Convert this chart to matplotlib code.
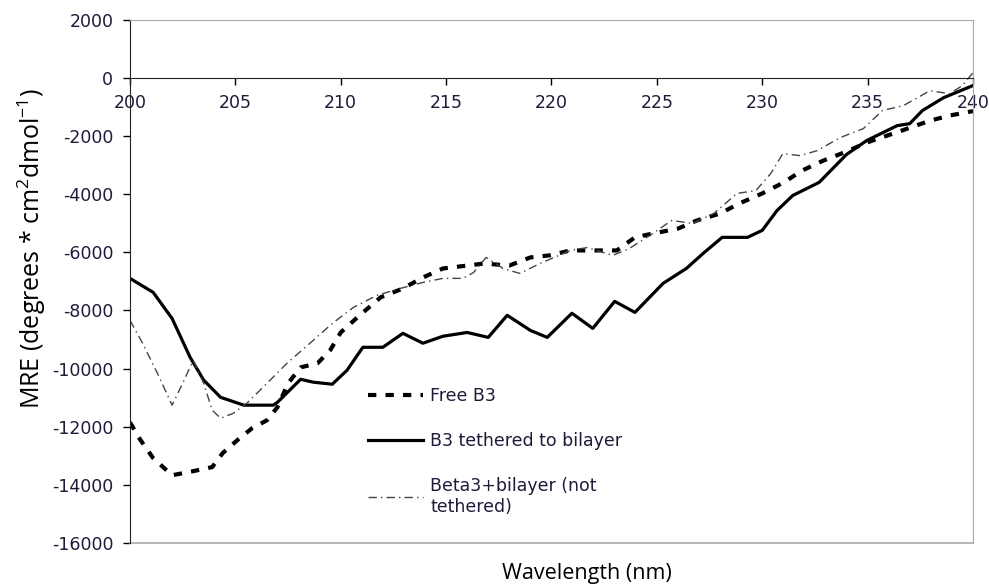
import matplotlib
matplotlib.use('Agg')
import matplotlib.pyplot as plt

plt.rcParams['axes.unicode_minus'] = False
plt.rcParams['mathtext.fontset'] = 'custom'
plt.rcParams['mathtext.rm'] = 'Open Sans'
plt.rcParams['mathtext.it'] = 'Open Sans'

# B3 tethered to bilayer (solid)
wl_teth = [200.0, 201.1, 202.0, 202.85, 203.5, 204.3, 205.4, 206.8, 207.0, 208.1, 208.7, 209.6,
           210.3, 211.05, 212.0, 212.95, 213.9, 214.85, 216.0, 217.0, 217.9, 219.0, 219.8, 220.97,
           221.96, 223.0, 223.96, 225.3, 226.4, 227.2, 228.1, 229.3, 230.0, 230.7, 231.45, 232.7,
           234.0, 234.96, 236.4, 237.0, 237.6, 238.6, 240.0]
mre_teth = [-6900, -7380, -8280, -9610, -10400, -10990, -11260, -11260, -11160, -10370, -10470, -10540,
            -10060, -9270, -9270, -8790, -9130, -8890, -8760, -8930, -8170, -8690, -8930, -8100,
            -8620, -7690, -8070, -7070, -6560, -6040, -5490, -5490, -5250, -4570, -4050, -3600,
            -2640, -2160, -1650, -1580, -1130, -690, -270]

# Free B3 (dashed)
wl_free = [200.0, 200.5, 201.1, 202.0, 203.0, 203.9, 204.4, 205.1, 205.8, 206.5, 207.0, 207.5,
           208.1, 208.9, 209.5, 210.0, 210.9, 211.9, 212.95, 213.9, 214.85, 216.0, 216.8, 218.0,
           219.0, 219.9, 220.9, 221.9, 223.1, 223.96, 224.8, 226.0, 226.9, 228.0, 228.9, 230.0,
           231.0, 231.9, 232.9, 234.0, 234.96, 236.5, 237.95, 238.9, 240.0]
mre_free = [-11850, -12460, -13080, -13670, -13530, -13390, -12910, -12460, -12050, -11780, -11330, -10510,
            -9960, -9820, -9370, -8760, -8170, -7550, -7250, -6870, -6560, -6460, -6390, -6460,
            -6180, -6110, -5940, -5940, -5940, -5490, -5360, -5190, -4910, -4670, -4330, -3980,
            -3610, -3190, -2850, -2540, -2230, -1850, -1480, -1300, -1150]

# Beta3+bilayer, not tethered (dash-dot)
wl_beta = [200.0, 200.6, 201.3, 202.0, 202.5, 203.0, 203.5, 203.9, 204.3, 204.9, 205.55, 206.5,
           207.45, 208.7, 209.6, 210.6, 211.7, 212.8, 213.9, 214.85, 215.8, 216.3, 216.9, 217.7,
           218.5, 219.45, 220.9, 221.7, 222.9, 223.7, 224.8, 225.7, 226.7, 227.7, 228.8, 229.7,
           230.4, 230.98, 231.8, 232.6, 233.7, 234.8, 235.7, 236.7, 237.95, 238.9, 239.5, 240.0]
mre_beta = [-8340, -9130, -10160, -11260, -10510, -9720, -10510, -11430, -11710, -11540, -11190, -10510,
            -9820, -9030, -8450, -7900, -7490, -7250, -7040, -6900, -6900, -6700, -6180, -6560,
            -6730, -6390, -5940, -5840, -6110, -5870, -5360, -4910, -5010, -4670, -3980, -3880,
            -3300, -2610, -2680, -2510, -2060, -1750, -1130, -960, -450, -550, -270, 170]

xticks = [200, 205, 210, 215, 220, 225, 230, 235, 240]
yticks = [2000, 0, -2000, -4000, -6000, -8000, -10000, -12000, -14000, -16000]

txtcol = '#1c1c3a'
tfs = 12.5

fig = plt.figure(figsize=(9.89, 5.88), dpi=100)
ax = fig.add_axes([0.1314, 0.0765, 0.8524, 0.8903])

ax.plot(wl_free, mre_free, color='black', lw=3, ls=(0, (2, 2.2)), label='Free B3')
ax.plot(wl_teth, mre_teth, color='black', lw=2.3, ls='-', label='B3 tethered to bilayer')
ax.plot(wl_beta, mre_beta, color='#444444', lw=1.0, ls=(0, (6, 3, 1, 3)),
        label='Beta3+bilayer (not\ntethered)')

ax.set_xlim(200, 240)
ax.set_ylim(-16000, 2000)
ax.set_xticks(xticks)
ax.set_yticks(yticks)

ax.spines['bottom'].set_position(('data', 0))
ax.spines['bottom'].set_color('#222222')
ax.spines['left'].set_color('#222222')
ax.spines['top'].set_color('#aaaaaa')
ax.spines['right'].set_color('#aaaaaa')
ax.plot([0, 1], [0, 0], transform=ax.transAxes, color='#aaaaaa', lw=1.2, clip_on=False)

ax.tick_params(axis='x', direction='out', length=5, width=1, pad=6.5,
               labelsize=tfs, labelcolor=txtcol)
ax.tick_params(axis='y', direction='out', length=5, width=1, pad=7,
               labelsize=tfs, labelcolor=txtcol)
for lab in ax.get_xticklabels() + ax.get_yticklabels():
    lab.set_fontfamily('DejaVu Sans')

leg = ax.legend(loc='upper left', bbox_to_anchor=(0.282, 0.298), frameon=False,
                handlelength=3.2, handletextpad=0.4, labelspacing=1.55,
                borderpad=0, borderaxespad=0, prop={'family': 'DejaVu Sans', 'size': tfs})
for t in leg.get_texts():
    t.set_color(txtcol)

fig.text(0.032, 0.578, 'MRE (degrees * cm$^2$dmol$^{-1}$)', rotation=90, fontsize=18,
         family='Open Sans', ha='center', va='center')
fig.text(0.593, 0.024, 'Wavelength (nm)', fontsize=15.5, family='Open Sans',
         ha='center', va='center')

fig.savefig('out.png', dpi=100)
